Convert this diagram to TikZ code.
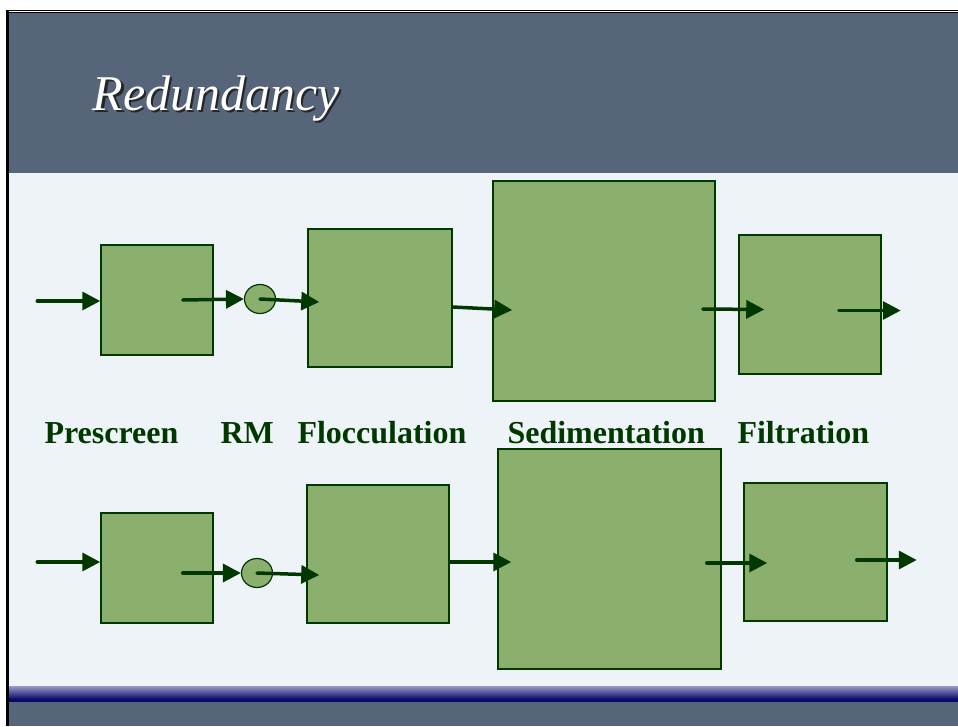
\documentclass[tikz,border=0pt]{standalone}
\usepackage{fontspec}
\setmainfont{Liberation Serif}
\usetikzlibrary{shapes.geometric,arrows.meta,calc}
\definecolor{slate}{HTML}{56657A}
\definecolor{paper}{HTML}{EEF3F8}
\definecolor{leaf}{HTML}{8BAF6D}
\definecolor{pine}{HTML}{003800}
\definecolor{lilac}{HTML}{9A9AC6}
\definecolor{navy}{HTML}{0A0A6A}

\begin{document}
\begin{tikzpicture}[x=1pt,y=-1pt,
	tank/.style={draw=pine,line width=1.5pt,fill=leaf,inner sep=0pt},
	mixer/.style={ellipse,draw=pine,line width=1.2pt,fill=leaf,minimum width=31pt,minimum height=29pt,inner sep=0pt},
	flow/.style={draw=pine,line width=3.5pt,line cap=round,-{Triangle[length=18pt,width=18pt]}},
	stage/.style={anchor=base west,text=pine,font=\bfseries\fontsize{32}{36}\selectfont}]
	\useasboundingbox (0,0) rectangle (958,726);
	% slide background
	\fill[white] (0,0) rectangle (958,726);
	\fill[slate] (6,10) rectangle (958,726);
	\fill[paper] (8,173) rectangle (958,686);
	\shade[top color=lilac,bottom color=navy] (8,686) rectangle (958,699);
	\fill[navy] (8,699) rectangle (958,702);
	\draw[black,line width=3pt] (7,726) -- (7,11.5) -- (958,11.5);
	\draw[white,line width=0.7pt] (8.5,11.5) -- (958,11.5);

	\node[anchor=base west,text=white,font=\itshape\fontsize{50}{56}\selectfont] (title) at (89,110)
		{\rlap{\kern2.5pt\raisebox{-2.5pt}{\color{black!85}Redundancy}}Redundancy};

	% first line
	\node[tank,minimum width=112pt,minimum height=110pt] (pre1) at (157,300) {};
	\node[mixer] (rm1) at (260,299) {};
	\node[tank,minimum width=144pt,minimum height=138pt] (floc1) at (380,298) {};
	\node[tank,minimum width=222pt,minimum height=220pt] (sed1) at (604,291) {};
	\node[tank,minimum width=142pt,minimum height=139pt] (fil1) at (810,304.5) {};

	% second line
	\node[tank,minimum width=112pt,minimum height=110pt] (pre2) at (157,568) {};
	\node[mixer] (rm2) at (257,573) {};
	\node[tank,minimum width=142pt,minimum height=138pt] (floc2) at (378,554) {};
	\node[tank,minimum width=223pt,minimum height=220pt] (sed2) at (609.5,559) {};
	\node[tank,minimum width=143pt,minimum height=138pt] (fil2) at (815.5,552) {};

	\foreach \t/\x [count=\n] in {Prescreen/41,RM/217,Flocculation/294,Sedimentation/504,Filtration/734}
		\node[stage] (L\n) at (\x,443) {\t};

	\draw[flow] ($(pre1.west)+(-63,1)$) -- ($(pre1.west)+(0,1)$);
	\draw[flow] ($(pre1.east)+(-31,0)$) -- (rm1.west);
	\draw[flow] (rm1.center) -- ($(floc1.west)+(12,4)$);
	\draw[flow] ($(floc1.east)+(0,9)$) -- ($(sed1.west)+(20,19)$);
	\draw[flow] ($(sed1.east)+(-13,18)$) -- ($(fil1.west)+(26,5)$);
	\draw[flow] ($(fil1.east)+(-43,6)$) -- ($(fil1.east)+(19,6)$);

	\draw[flow] ($(pre2.west)+(-63,-6)$) -- ($(pre2.west)+(0,-6)$);
	\draw[flow] ($(pre2.east)+(-31,5)$) -- (rm2.west);
	\draw[flow] (rm2.center) -- ($(floc2.west)+(13,21)$);
	\draw[flow] ($(floc2.east)+(0,8)$) -- ($(sed2.west)+(14,3)$);
	\draw[flow] ($(sed2.east)+(-15,4)$) -- ($(fil2.west)+(24,11)$);
	\draw[flow] ($(fil2.east)+(-31,8)$) -- ($(fil2.east)+(29,8)$);
\end{tikzpicture}
\end{document}
